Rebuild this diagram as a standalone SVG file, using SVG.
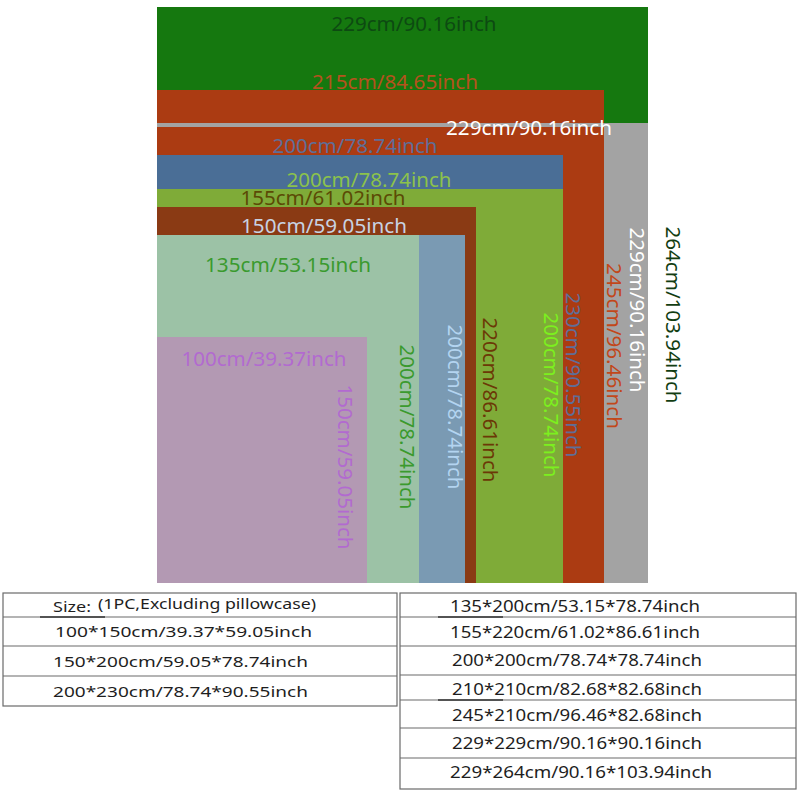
<svg xmlns="http://www.w3.org/2000/svg" width="800" height="800" viewBox="0 0 800 800">
<style>
.lbl{font-family:"Noto Sans","Open Sans","DejaVu Sans",sans-serif;font-size:19px;text-anchor:middle}
.tb{font-family:"Noto Sans","Open Sans","DejaVu Sans",sans-serif;fill:#1e1e1e}
.grid{fill:none;stroke:#6a6a6a;stroke-width:1.2}
.mark{stroke:#333;stroke-width:1.6}
</style>
<rect width="800" height="800" fill="#ffffff"/>
<g id="sheet-229x264">
<rect x="157" y="7" width="491" height="116" fill="#15780f"/>
<text class="lbl" x="414" y="31" fill="#0d4a12" textLength="165" lengthAdjust="spacingAndGlyphs">229cm/90.16inch</text>
<text class="lbl" transform="translate(666,315) rotate(90)" fill="#123d12" textLength="177" lengthAdjust="spacingAndGlyphs">264cm/103.94inch</text>
</g>
<g id="sheet-229x229">
<rect x="157" y="123" width="491" height="460" fill="#a3a3a3"/>
</g>
<g id="sheet-245x210">
<rect x="157" y="90" width="447" height="33" fill="#ab3b12"/>
<text class="lbl" x="395" y="89" fill="#b5521e" textLength="166" lengthAdjust="spacingAndGlyphs">215cm/84.65inch</text>
</g>
<g id="sheet-200x230-outer">
<rect x="157" y="127" width="447" height="456" fill="#ab3b12"/>
<text class="lbl" x="529" y="135" fill="#ffffff" textLength="166" lengthAdjust="spacingAndGlyphs">229cm/90.16inch</text>
<text class="lbl" transform="translate(630,310) rotate(90)" fill="#ffffff" textLength="165" lengthAdjust="spacingAndGlyphs">229cm/90.16inch</text>
<text class="lbl" transform="translate(607,346) rotate(90)" fill="#c2471a" textLength="166" lengthAdjust="spacingAndGlyphs">245cm/96.46inch</text>
<text class="lbl" x="355" y="153" fill="#5f6e98" textLength="165" lengthAdjust="spacingAndGlyphs">200cm/78.74inch</text>
<text class="lbl" transform="translate(566,375) rotate(90)" fill="#5f6e98" textLength="165" lengthAdjust="spacingAndGlyphs">230cm/90.55inch</text>
</g>
<g id="sheet-200x230">
<rect x="157" y="155" width="406" height="428" fill="#4a6e96"/>
<text class="lbl" x="369" y="187" fill="#8cc24c" font-size="18.5" textLength="165" lengthAdjust="spacingAndGlyphs">200cm/78.74inch</text>
</g>
<g id="sheet-200x200">
<rect x="157" y="189" width="406" height="394" fill="#7fab38"/>
<text class="lbl" x="323" y="205" fill="#5b4a05" textLength="165" lengthAdjust="spacingAndGlyphs">155cm/61.02inch</text>
<text class="lbl" transform="translate(544,395) rotate(90)" fill="#7cf01e" textLength="165" lengthAdjust="spacingAndGlyphs">200cm/78.74inch</text>
<text class="lbl" transform="translate(483,400) rotate(90)" fill="#6b3806" textLength="165" lengthAdjust="spacingAndGlyphs">220cm/86.61inch</text>
</g>
<g id="sheet-150x200">
<rect x="157" y="207" width="319" height="376" fill="#8a3a14"/>
<text class="lbl" x="324" y="233" fill="#c8d2e2" textLength="166" lengthAdjust="spacingAndGlyphs">150cm/59.05inch</text>
</g>
<g id="sheet-steel">
<rect x="157" y="235" width="308" height="348" fill="#7a9ab3"/>
<text class="lbl" transform="translate(448,407) rotate(90)" fill="#b3d4f0" textLength="165" lengthAdjust="spacingAndGlyphs">200cm/78.74inch</text>
</g>
<g id="sheet-135x200">
<rect x="157" y="235" width="262" height="348" fill="#9cc2a6"/>
<text class="lbl" x="288" y="272" fill="#3a9a2e" textLength="166" lengthAdjust="spacingAndGlyphs">135cm/53.15inch</text>
<text class="lbl" transform="translate(400,427) rotate(90)" fill="#3a9a2e" textLength="165" lengthAdjust="spacingAndGlyphs">200cm/78.74inch</text>
</g>
<g id="sheet-100x150">
<rect x="157" y="337" width="210" height="246" fill="#b399b3"/>
<text class="lbl" x="264" y="366" fill="#b26ad0" textLength="165" lengthAdjust="spacingAndGlyphs">100cm/39.37inch</text>
<text class="lbl" transform="translate(338,467) rotate(90)" fill="#b26ad0" textLength="165" lengthAdjust="spacingAndGlyphs">150cm/59.05inch</text>
</g>
<g id="table-left">
<rect class="grid" x="3" y="593" width="394" height="113"/>
<line class="grid" x1="3" y1="617" x2="397" y2="617"/>
<line class="grid" x1="3" y1="646" x2="397" y2="646"/>
<line class="grid" x1="3" y1="676" x2="397" y2="676"/>
<line class="mark" x1="40" y1="617" x2="105" y2="617"/>
<text class="tb" x="53" y="612" font-size="15" textLength="38" lengthAdjust="spacingAndGlyphs">Size:</text>
<text class="tb" x="98" y="609" font-size="14" textLength="218" lengthAdjust="spacingAndGlyphs">(1PC,Excluding pillowcase)</text>
<text class="tb" x="55" y="637" font-size="15" textLength="257" lengthAdjust="spacingAndGlyphs">100*150cm/39.37*59.05inch</text>
<text class="tb" x="53" y="667" font-size="15" textLength="255" lengthAdjust="spacingAndGlyphs">150*200cm/59.05*78.74inch</text>
<text class="tb" x="53" y="697" font-size="15" textLength="255" lengthAdjust="spacingAndGlyphs">200*230cm/78.74*90.55inch</text>
</g>
<g id="table-right">
<rect class="grid" x="400" y="593" width="396" height="196"/>
<line class="grid" x1="400" y1="617" x2="796" y2="617"/>
<line class="grid" x1="400" y1="646" x2="796" y2="646"/>
<line class="grid" x1="400" y1="675" x2="796" y2="675"/>
<line class="grid" x1="400" y1="700" x2="796" y2="700"/>
<line class="grid" x1="400" y1="728" x2="796" y2="728"/>
<line class="grid" x1="400" y1="758" x2="796" y2="758"/>
<line class="mark" x1="438" y1="617" x2="503" y2="617"/>
<line class="mark" x1="438" y1="700" x2="503" y2="700"/>
<text class="tb" x="450" y="612" font-size="17" textLength="250" lengthAdjust="spacingAndGlyphs">135*200cm/53.15*78.74inch</text>
<text class="tb" x="450" y="638" font-size="17" textLength="250" lengthAdjust="spacingAndGlyphs">155*220cm/61.02*86.61inch</text>
<text class="tb" x="452" y="666" font-size="17" textLength="250" lengthAdjust="spacingAndGlyphs">200*200cm/78.74*78.74inch</text>
<text class="tb" x="452" y="695" font-size="17" textLength="250" lengthAdjust="spacingAndGlyphs">210*210cm/82.68*82.68inch</text>
<text class="tb" x="452" y="721" font-size="17" textLength="250" lengthAdjust="spacingAndGlyphs">245*210cm/96.46*82.68inch</text>
<text class="tb" x="452" y="749" font-size="17" textLength="250" lengthAdjust="spacingAndGlyphs">229*229cm/90.16*90.16inch</text>
<text class="tb" x="450" y="778" font-size="17" textLength="262" lengthAdjust="spacingAndGlyphs">229*264cm/90.16*103.94inch</text>
</g>
</svg>
